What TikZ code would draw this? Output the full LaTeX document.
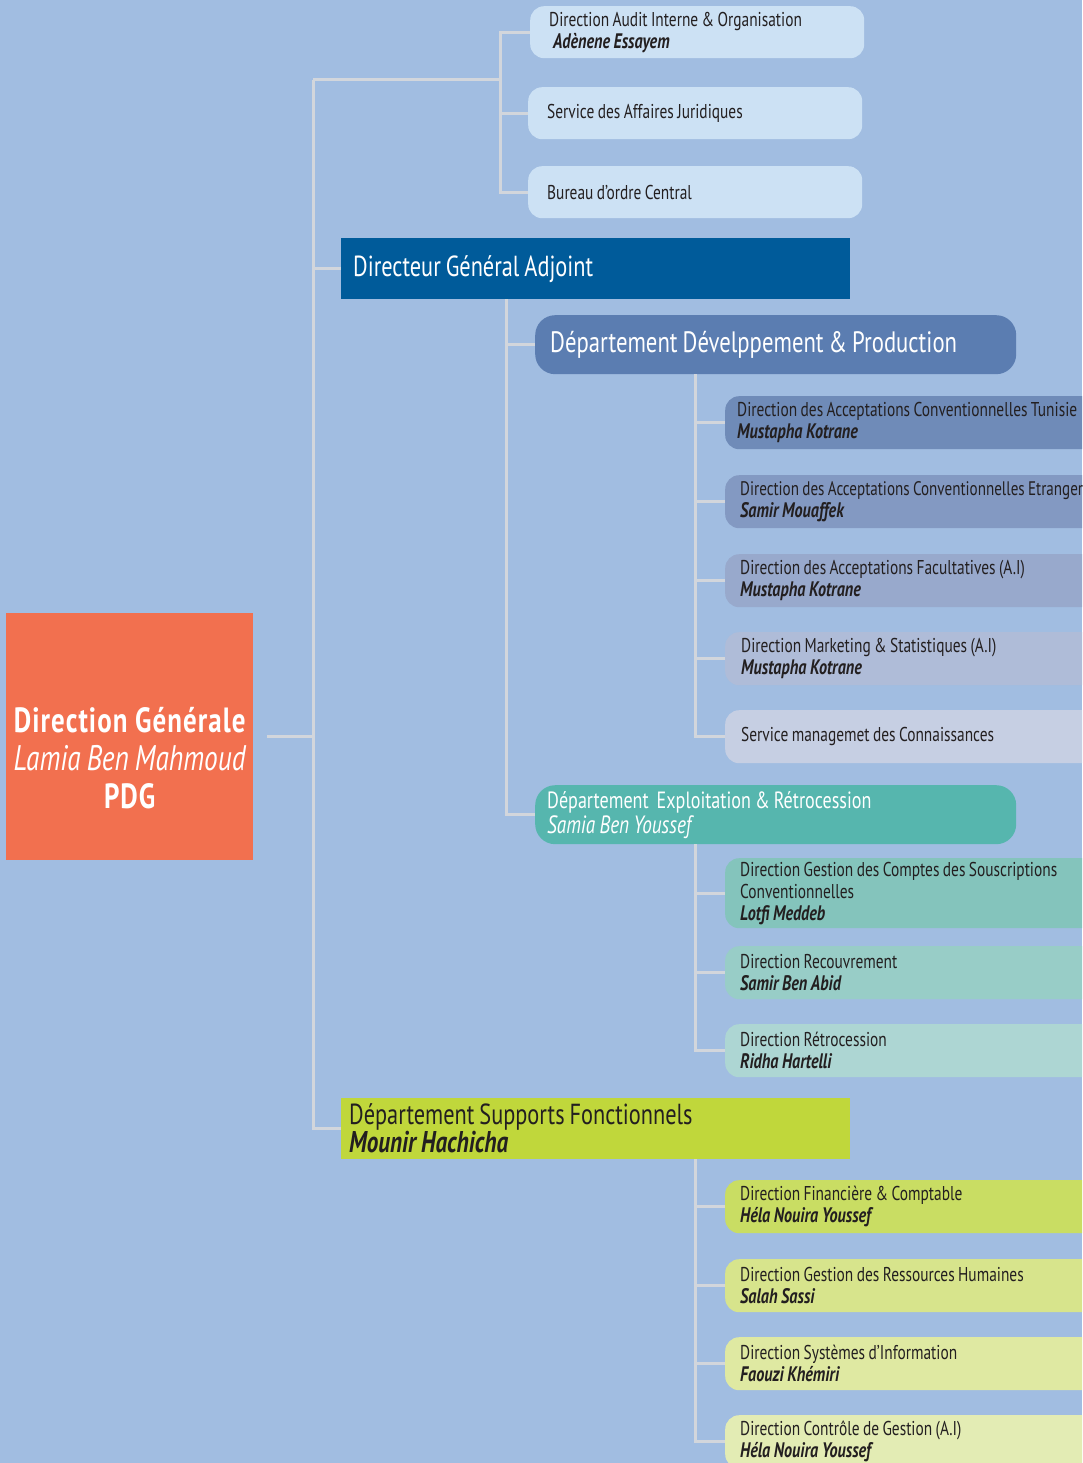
\documentclass[tikz,border=0pt]{standalone}
\usepackage{fontspec}
\setmainfont{PT Sans}[FakeStretch=0.77]
\usetikzlibrary{calc}
\definecolor{bgc}{HTML}{A1BDE1}
\definecolor{connc}{HTML}{D2D6DC}
\definecolor{topc}{HTML}{CCE1F4}
\definecolor{dgac}{HTML}{005B9A}
\definecolor{devc}{HTML}{5B7DB1}
\definecolor{devA}{HTML}{6F8BB8}
\definecolor{devB}{HTML}{8399C2}
\definecolor{devC}{HTML}{98A9CC}
\definecolor{devD}{HTML}{AFBCD8}
\definecolor{devE}{HTML}{C6CFE3}
\definecolor{expc}{HTML}{56B6AE}
\definecolor{expA}{HTML}{84C4BC}
\definecolor{expB}{HTML}{98CDC7}
\definecolor{expC}{HTML}{ADD6D3}
\definecolor{supc}{HTML}{C0D73B}
\definecolor{supA}{HTML}{C9DD63}
\definecolor{supB}{HTML}{D7E48C}
\definecolor{supC}{HTML}{DFE9A2}
\definecolor{supD}{HTML}{E3ECB4}
\definecolor{pdgc}{HTML}{F2704F}
\definecolor{txt}{HTML}{231F20}
\newcommand{\tsp}{\spaceskip=0.17em plus 0.04em minus 0.02em\relax}
\newcommand{\fsz}[2]{\fontsize{#1}{#2}\selectfont}
\newcommand{\nm}[1]{{\fontsize{21}{22}\selectfont\bfseries\itshape\tsp #1}}
\begin{document}
\begin{tikzpicture}[x=1pt,y=-1pt,
  every node/.append style={execute at begin node=\tsp},
  conn/.style={draw=connc, line width=3pt},
  base/.style={anchor=north west, inner ysep=0pt, align=left, text=txt},
  topbox/.style={base, fill=topc, rounded corners=14pt, inner xsep=19pt, text width=296pt,
     minimum height=52pt, font=\fsz{20}{22}},
  child/.style={base, rounded corners=14pt, inner xsep=15pt, text width=380pt,
     minimum height=53pt, font=\fsz{20}{22}},
  bigbox/.style={base, inner ysep=0pt, minimum height=61pt}
]
\useasboundingbox (0,0) rectangle (1082,1463);
\clip (0,0) rectangle (1082,1463);
\fill[bgc] (0,0) rectangle (1082,1463);

% PDG
\node[anchor=north west, fill=pdgc, minimum width=247pt, minimum height=247pt, inner sep=0pt] (pdg) at (6,613) {};
\node[align=center, text=white, font=\fsz{35}{38}, inner sep=0pt, anchor=center] (pdgtxt) at ([yshift=-21pt]pdg.center)
  {{\bfseries\addfontfeatures{LetterSpace=3}\spaceskip=0.22em\relax Direction Générale}\\{\fontsize{35.5}{38}\selectfont\itshape\tsp Lamia Ben Mahmoud}\\{\bfseries\addfontfeatures{LetterSpace=3}PDG}};

% top group
\node[topbox] (audit) at (530,6) {Direction Audit Interne \& Organisation\\\hspace*{4pt}\nm{Adènene Essayem}};
\node[topbox] (jur) at (528,87) {Service des Affaires Juridiques};
\node[topbox] (bur) at (528,166) {Bureau d'ordre Central};

% DGA
\node[bigbox, fill=dgac, text=white, inner xsep=12pt, text width=485pt, font=\fsz{29}{31}] (dga) at (341,238)
  {Directeur Général Adjoint};

% Dept Dev
\node[base, fill=devc, rounded corners=20pt, text=white, inner xsep=15pt, text width=451pt, minimum height=59pt,
  font=\fsz{29.5}{31}] (ddev) at (535,315) {Département Dévelppement \& Production};
\node[child, fill=devA, inner xsep=12pt, text width=386pt] (c1) at (725,396) {Direction des Acceptations Conventionnelles Tunisie\\\nm{Mustapha Kotrane}};
\node[child, fill=devB] (c2) at (725,475) {{\fontsize{19.6}{22}\selectfont\tsp Direction des Acceptations Conventionnelles Etranger}\\\nm{Samir Mouaffek}};
\node[child, fill=devC] (c3) at (725,554) {Direction des Acceptations Facultatives (A.I)\\\nm{Mustapha Kotrane}};
\node[child, fill=devD, inner xsep=16pt, text width=378pt] (c4) at (725,632) {Direction Marketing \& Statistiques (A.I)\\\nm{Mustapha Kotrane}};
\node[child, fill=devE, inner xsep=16pt, text width=378pt] (c5) at (725,710) {Service managemet des Connaissances};

% Dept Exploitation
\node[base, fill=expc, rounded corners=20pt, text=white, inner xsep=12pt, text width=457pt, minimum height=59pt,
  font=\fsz{23.5}{25}] (dexp) at (535,785) {Département\ \ Exploitation \& Rétrocession\\{\fontsize{25}{25}\selectfont\itshape\tsp Samia Ben Youssef}};
\node[child, fill=expA, minimum height=70pt] (e1) at (725,858) {Direction Gestion des Comptes des Souscriptions\\Conventionnelles\\\nm{Lotfi Meddeb}};
\node[child, fill=expB] (e2) at (725,946) {Direction Recouvrement\\\nm{Samir Ben Abid}};
\node[child, fill=expC] (e3) at (725,1024) {Direction Rétrocession\\\nm{Ridha Hartelli}};

% Dept Supports
\node[bigbox, fill=supc, inner xsep=8pt, text width=493pt, font=\fsz{29}{28}] (dsup) at (341,1098)
  {Département Supports Fonctionnels\\{\fontsize{30}{28}\selectfont\bfseries\itshape\tsp Mounir Hachicha}};
\node[child, fill=supA] (s1) at (725,1180) {Direction Financière \& Comptable\\\nm{Héla Nouira Youssef}};
\node[child, fill=supB] (s2) at (725,1259) {Direction Gestion des Ressources Humaines\\\nm{Salah Sassi}};
\node[child, fill=supC] (s3) at (725,1337) {Direction Systèmes d'Information\\\nm{Faouzi Khémiri}};
\node[child, fill=supD] (s4) at (725,1415) {Direction Contrôle de Gestion (A.I)\\\nm{Héla Nouira Youssef}};

% connectors
\coordinate (tk) at (313,80);
\coordinate (br) at (500,80);
\coordinate (dv) at (506,0);
\coordinate (v2) at (695,0);
\draw[conn] (tk) -- (tk |- dsup.west) -- (dsup.west);
\draw[conn] (tk |- dga.west) -- (dga.west);
\draw[conn, shorten <=14pt] (pdg.east) -- (pdg.east -| tk);
\draw[conn] (tk) -- (br);
\draw[conn] (audit.west) -- (audit.west -| br) -- (bur.west -| br) -- (bur.west);
\draw[conn] (jur.west -| br) -- (jur.west);
\draw[conn] (dga.south -| dv) |- (dexp.west);
\draw[conn] (ddev.west -| dv) -- (ddev.west);
\draw[conn] (ddev.south -| v2) |- (c5.west);
\foreach \n in {c1,c2,c3,c4} \draw[conn] (\n.west -| v2) -- (\n.west);
\draw[conn] (dexp.south -| v2) |- (e3.west);
\foreach \n in {e1,e2} \draw[conn] (\n.west -| v2) -- (\n.west);
\draw[conn] (dsup.south -| v2) |- (s4.west);
\foreach \n in {s1,s2,s3} \draw[conn] (\n.west -| v2) -- (\n.west);
\end{tikzpicture}
\end{document}
